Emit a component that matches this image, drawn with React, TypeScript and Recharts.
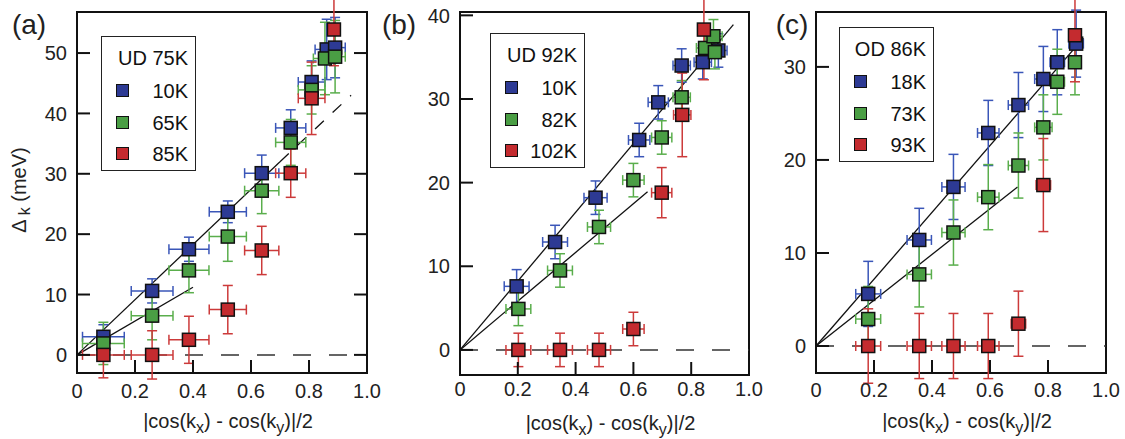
import {
  ScatterChart,
  Scatter,
  XAxis,
  YAxis,
  ErrorBar,
  ReferenceLine,
  ReferenceArea,
  Legend,
} from "recharts"

const FONT = "'Liberation Sans', Arial, Helvetica, sans-serif"
const INK = "#222"
const FILLS = ["#2d3a94", "#4a9e44", "#c42b2f"]
const BARS = ["#3a56b8", "#5aae4c", "#cc3a3a"]

// [x, y, xErr, yErr]
type Row = [number, number, number, number]

// (a) UD 75K
const aLegend = ["10K", "65K", "85K"]
const a10K: Row[] = [
  [0.091, 3.0, 0.072, 2.0],
  [0.259, 10.6, 0.072, 2.0],
  [0.386, 17.5, 0.069, 2.0],
  [0.52, 23.7, 0.064, 1.8],
  [0.637, 30.1, 0.059, 3.0],
  [0.737, 37.6, 0.052, 3.0],
  [0.809, 45.2, 0.046, 3.5],
  [0.861, 50.6, 0.04, 5.0],
  [0.89, 50.9, 0.035, 5.0],
]
const a65K: Row[] = [
  [0.091, 1.9, 0.072, 3.5],
  [0.259, 6.5, 0.072, 4.0],
  [0.386, 14.0, 0.069, 3.7],
  [0.52, 19.6, 0.064, 4.1],
  [0.637, 27.2, 0.059, 3.8],
  [0.737, 35.2, 0.052, 3.8],
  [0.809, 43.9, 0.046, 4.0],
  [0.855, 49.1, 0.04, 6.0],
  [0.89, 49.4, 0.035, 6.0],
]
const a85K: Row[] = [
  [0.091, 0, 0.072, 3.8],
  [0.259, 0, 0.072, 4.0],
  [0.386, 2.5, 0.069, 3.9],
  [0.52, 7.5, 0.064, 4.0],
  [0.637, 17.3, 0.059, 4.0],
  [0.737, 30.1, 0.052, 4.0],
  [0.809, 42.5, 0.046, 6.0],
  [0.886, 53.9, 0.015, 6.0],
]

// (b) UD 92K
const bLegend = ["10K", "82K", "102K"]
const b10K: Row[] = [
  [0.196, 7.6, 0.043, 2.0],
  [0.329, 12.9, 0.043, 2.0],
  [0.469, 18.2, 0.04, 2.0],
  [0.62, 25.1, 0.037, 2.0],
  [0.686, 29.6, 0.035, 2.0],
  [0.767, 34.0, 0.03, 2.0],
  [0.84, 34.4, 0.03, 2.0],
  [0.894, 35.8, 0.03, 2.0],
]
const b82K: Row[] = [
  [0.202, 4.9, 0.043, 2.0],
  [0.346, 9.5, 0.043, 2.0],
  [0.481, 14.7, 0.04, 2.0],
  [0.6, 20.3, 0.037, 2.0],
  [0.698, 25.4, 0.035, 2.0],
  [0.767, 30.2, 0.03, 2.0],
  [0.848, 36.1, 0.03, 2.0],
  [0.877, 37.5, 0.03, 2.0],
  [0.882, 35.6, 0.03, 2.0],
]
const b102K: Row[] = [
  [0.202, 0, 0.043, 2.0],
  [0.346, 0, 0.043, 2.0],
  [0.481, 0, 0.04, 2.0],
  [0.6, 2.5, 0.037, 2.0],
  [0.698, 18.8, 0.035, 3.0],
  [0.769, 28.1, 0.03, 5.0],
  [0.844, 38.3, 0.01, 6.0],
]

// (c) OD 86K
const cLegend = ["18K", "73K", "93K"]
const c18K: Row[] = [
  [0.18, 5.6, 0.043, 3.5],
  [0.356, 11.4, 0.042, 3.4],
  [0.474, 17.1, 0.04, 3.5],
  [0.594, 22.9, 0.037, 3.5],
  [0.698, 25.9, 0.035, 3.5],
  [0.784, 28.7, 0.03, 3.5],
  [0.832, 30.5, 0.025, 3.5],
  [0.897, 32.5, 0.025, 3.6],
]
const c73K: Row[] = [
  [0.18, 2.9, 0.043, 3.5],
  [0.356, 7.7, 0.042, 3.5],
  [0.474, 12.2, 0.04, 3.5],
  [0.594, 16.0, 0.037, 3.5],
  [0.698, 19.4, 0.035, 3.5],
  [0.784, 23.5, 0.03, 3.5],
  [0.832, 28.4, 0.025, 3.5],
  [0.893, 30.5, 0.02, 3.5],
]
const c93K: Row[] = [
  [0.18, 0, 0.043, 4.0],
  [0.356, 0, 0.042, 3.5],
  [0.474, 0, 0.04, 3.5],
  [0.594, 0, 0.037, 3.5],
  [0.698, 2.4, 0.025, 3.5],
  [0.784, 17.3, 0.025, 5.0],
  [0.893, 33.4, 0.01, 5.0],
]

// linear fits through the origin: [xEnd, yEnd]
const aFits: [number, number][] = [[0.7, 32.0], [0.4, 11.2]]
const aFitDashed: [number, number][] = [[0.7, 32.0], [0.945, 43.0]]
const bFits: [number, number][] = [[0.946, 38.9], [0.649, 18.9]]
const cFits: [number, number][] = [[0.922, 33.1], [0.695, 17.1]]

const xTicks = [0, 0.2, 0.4, 0.6, 0.8, 1.0]

const toPts = (rows: Row[]) => rows.map(([x, y, ex, ey]) => ({ x, y, ex, ey }))

const square = (color: string) => (p: any) => (
  <rect
    x={p.cx - 6.5}
    y={p.cy - 6.5}
    width={13}
    height={13}
    fill={color}
    stroke="#111"
    strokeWidth={1.5}
  />
)

function LegendBox({ title, labels }: { title: string; labels: string[] }) {
  return (
    <div
      style={{
        position: "relative",
        width: 95,
        height: 135,
        boxSizing: "border-box",
        border: "1.5px solid #222",
        background: "#fff",
        fontFamily: FONT,
        fontSize: 20,
        color: "#111",
      }}
    >
      <div style={{ position: "absolute", right: 7, top: 9, lineHeight: "24px" }}>{title}</div>
      {labels.map((l, i) => (
        <div key={l} style={{ position: "absolute", left: 0, right: 7, top: [42, 74, 105][i], height: 24 }}>
          <span
            style={{
              position: "absolute",
              left: 14,
              top: 5,
              width: 13,
              height: 13,
              boxSizing: "border-box",
              background: FILLS[i],
              border: "1.5px solid #111",
            }}
          />
          <span style={{ position: "absolute", right: 0, lineHeight: "24px" }}>{l}</span>
        </div>
      ))}
    </div>
  )
}

interface PanelProps {
  letter: string
  letterX: number
  marginLeft: number
  yAxisWidth: number
  marginRight: number
  xAxisHeight: number
  plotWidth: number
  yDomain: [number, number]
  yTicks: number[]
  rightTicks: boolean
  yTitle: boolean
  xLabelGap: number
  legendTitle: string
  legendLabels: string[]
  legendPos: { left: number; top: number }
  series: Row[][]
  fits: [number, number][]
  dashedFit?: [number, number][]
}

function Panel(p: PanelProps) {
  const LeftTick = (t: any) => {
    const ax = t.x + 10
    return (
      <g>
        <line x1={ax} y1={t.y} x2={ax + 13} y2={t.y} stroke="#111" strokeWidth={2} />
        {p.rightTicks && (
          <line x1={ax + p.plotWidth - 13} y1={t.y} x2={ax + p.plotWidth} y2={t.y} stroke="#111" strokeWidth={2} />
        )}
        <text x={t.x} y={t.y} dy="0.36em" textAnchor="end" fontSize={20} fontFamily={FONT} fill={INK}>
          {t.payload.value}
        </text>
      </g>
    )
  }
  const BottomTick = (t: any) => {
    const v = t.payload.value
    const ay = t.y - p.xLabelGap
    return (
      <g>
        {v > 0 && v < 1 && <line x1={t.x} y1={ay} x2={t.x} y2={ay - 13} stroke="#111" strokeWidth={2} />}
        <text x={t.x} y={t.y} dy="0.71em" textAnchor="middle" fontSize={20} fontFamily={FONT} fill={INK}>
          {v === 0 ? "0" : v.toFixed(1)}
        </text>
      </g>
    )
  }
  const XTitle = (l: any) => {
    const vb = l.viewBox
    return (
      <text x={vb.x + vb.width / 2 + 6} y={vb.y + 55} textAnchor="middle" fontSize={20} fontFamily={FONT} fill={INK}>
        |cos(k<tspan fontSize={16} dy={5}>x</tspan>
        <tspan dy={-5}>) - cos(k</tspan>
        <tspan fontSize={16} dy={5}>y</tspan>
        <tspan dy={-5}>)|/2</tspan>
      </text>
    )
  }
  const YTitle = () => (
    <g>
      <text x={p.letterX} y={34} textAnchor="middle" fontSize={28} fontFamily={FONT} fill={INK}>
        {p.letter}
      </text>
      {p.yTitle && (
        <text
          x={26}
          y={190}
          transform="rotate(-90, 26, 190)"
          textAnchor="middle"
          fontSize={20}
          fontFamily={FONT}
          fill={INK}
        >
          Δ<tspan fontSize={16} dx={4} dy={4}>k</tspan>
          <tspan dy={-4}> (meV)</tspan>
        </text>
      )}
    </g>
  )

  return (
    <div style={{ position: "absolute", left: 0, top: 0 }}>
      <ScatterChart
        width={1125}
        height={439}
        margin={{ top: 12, right: p.marginRight, bottom: 0, left: p.marginLeft }}
      >
        <XAxis
          type="number"
          dataKey="x"
          domain={[0, 1]}
          ticks={xTicks}
          allowDataOverflow
          height={p.xAxisHeight}
          axisLine={false}
          tickLine={false}
          tickSize={0}
          tickMargin={p.xLabelGap}
          tick={BottomTick}
          interval={0}
          label={<XTitle />}
        />
        <YAxis
          type="number"
          dataKey="y"
          domain={p.yDomain}
          ticks={p.yTicks}
          allowDataOverflow
          width={p.yAxisWidth}
          axisLine={false}
          tickLine={false}
          tickSize={0}
          tickMargin={10}
          tick={LeftTick}
          interval={0}
          label={<YTitle />}
        />
        <ReferenceLine y={0} stroke="#333" strokeWidth={1.5} strokeDasharray="18 18" />
        {p.fits.map(([xe, ye], i) => (
          <ReferenceLine
            key={"f" + i}
            segment={[{ x: 0, y: 0 }, { x: xe, y: ye }]}
            stroke="#111"
            strokeWidth={1.3}
          />
        ))}
        {p.dashedFit && (
          <ReferenceLine
            segment={p.dashedFit.map(([x, y]) => ({ x, y }))}
            stroke="#111"
            strokeWidth={1.3}
            strokeDasharray="12 12"
          />
        )}
        {p.series.map((rows, i) => (
          <Scatter
            key={"s" + i}
            data={toPts(rows)}
            fill={FILLS[i]}
            shape={square(FILLS[i])}
            isAnimationActive={false}
          >
            <ErrorBar dataKey="ex" direction="x" width={5} stroke={BARS[i]} strokeWidth={1.5} isAnimationActive={false} />
            <ErrorBar dataKey="ey" direction="y" width={5} stroke={BARS[i]} strokeWidth={1.5} isAnimationActive={false} />
          </Scatter>
        ))}
        <ReferenceArea
          x1={0}
          x2={1}
          y1={p.yDomain[0]}
          y2={p.yDomain[1]}
          fill="none"
          fillOpacity={0}
          stroke="#111"
          strokeWidth={2}
          ifOverflow="visible"
        />
        <Legend
          layout="vertical"
          align="center"
          verticalAlign="middle"
          wrapperStyle={{ left: p.legendPos.left, top: p.legendPos.top, width: 95, height: 135 }}
          content={() => <LegendBox title={p.legendTitle} labels={p.legendLabels} />}
        />
      </ScatterChart>
    </div>
  )
}

export default function App() {
  return (
    <div style={{ position: "absolute", left: 0, top: 0, width: 1125, height: 439, background: "#fff" }}>
      <Panel
        letter="(a)"
        letterX={29}
        marginLeft={0}
        yAxisWidth={77}
        marginRight={758}
        xAxisHeight={66}
        plotWidth={290}
        yDomain={[-3, 56.8]}
        yTicks={[0, 10, 20, 30, 40, 50]}
        rightTicks
        yTitle
        xLabelGap={11}
        legendTitle="UD 75K"
        legendLabels={aLegend}
        legendPos={{ left: 101, top: 36 }}
        series={[a10K, a65K, a85K]}
        fits={aFits}
        dashedFit={aFitDashed}
      />
      <Panel
        letter="(b)"
        letterX={399}
        marginLeft={380}
        yAxisWidth={80}
        marginRight={376}
        xAxisHeight={64}
        plotWidth={289}
        yDomain={[-3, 40.4]}
        yTicks={[0, 10, 20, 30, 40]}
        rightTicks={false}
        yTitle={false}
        xLabelGap={7}
        legendTitle="UD 92K"
        legendLabels={bLegend}
        legendPos={{ left: 490, top: 33 }}
        series={[b10K, b82K, b102K]}
        fits={bFits}
      />
      <Panel
        letter="(c)"
        letterX={792}
        marginLeft={740}
        yAxisWidth={76}
        marginRight={19}
        xAxisHeight={66}
        plotWidth={290}
        yDomain={[-2.9, 35.9]}
        yTicks={[0, 10, 20, 30]}
        rightTicks={false}
        yTitle={false}
        xLabelGap={10}
        legendTitle="OD 86K"
        legendLabels={cLegend}
        legendPos={{ left: 839, top: 27 }}
        series={[c18K, c73K, c93K]}
        fits={cFits}
      />
    </div>
  )
}
